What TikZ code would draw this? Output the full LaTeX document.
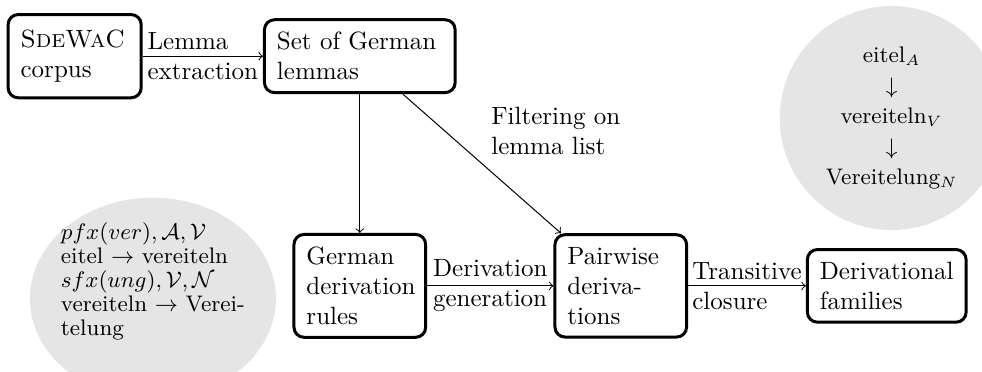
\documentclass[tikz,border=0pt]{standalone}
\usepackage{amsmath}
\usepackage{xcolor}
\usetikzlibrary{shapes.geometric}

\begin{document}
\begin{tikzpicture}[
 box/.style={draw, very thick, rounded corners, align=left, inner sep=5pt},
 example/.style={fill=gray!20, inner sep=0pt}
]
 \useasboundingbox (0,0) rectangle (13.81,-5.22);

 \node[example, ellipse, minimum width=3.46cm, minimum height=2.84cm] (rulesex) at (2.15,-4.2) {};
 \node[align=left, font=\fontsize{9}{9.6}\selectfont, inner sep=0pt] (rulestext) at ([yshift=0.24cm]rulesex.center) {$pfx(ver), \mathcal{A}, \mathcal{V}$\\ eitel $\rightarrow$ vereiteln\\ $sfx(ung), \mathcal{V}, \mathcal{N}$\\ vereiteln $\rightarrow$ Verei-\\ telung};
 \node[example, circle, minimum size=3.15cm, align=center, font=\small] (familyex) at (12.54,-1.66) {eitel$_A$\\[1.2pt] $\downarrow$\\[1.2pt] vereiteln$_V$\\[1.2pt] $\downarrow$\\[1.2pt] Vereitelung$_N$};

 \node[box, text width=1.52cm, minimum height=1.17cm] (corpus) at (1.05,-0.79) {\textsc{SdeWaC}\\ corpus};
 \node[box, text width=2.33cm] (lemmas) at (5.06,-0.79) {Set of German\\ lemmas};

 \node[box, text width=1.5cm] (german) at (5.06,-4.02) {German\\ derivation\\ rules};
 \node[box, text width=1.5cm] (pairwise) at (8.73,-4.02) {Pairwise\\ deriva-\\ tions};
 \node[box] (families) at (12.47,-4.02) {Derivational\\ families};

 \draw[->] (corpus) -- node[align=left] {Lemma\\ extraction} (lemmas);
 \draw[->] (lemmas) -- (german);
 \draw[->] (lemmas) -- node[pos=0.48, above right, xshift=1.5pt, yshift=-1pt, align=left] {Filtering on\\ lemma list} (pairwise);
 \draw[->] (german) -- node[align=left] {Derivation\\ generation} (pairwise);
 \draw[->] (pairwise) -- node[align=left] {Transitive\\ closure} (families);
\end{tikzpicture}
\end{document}
